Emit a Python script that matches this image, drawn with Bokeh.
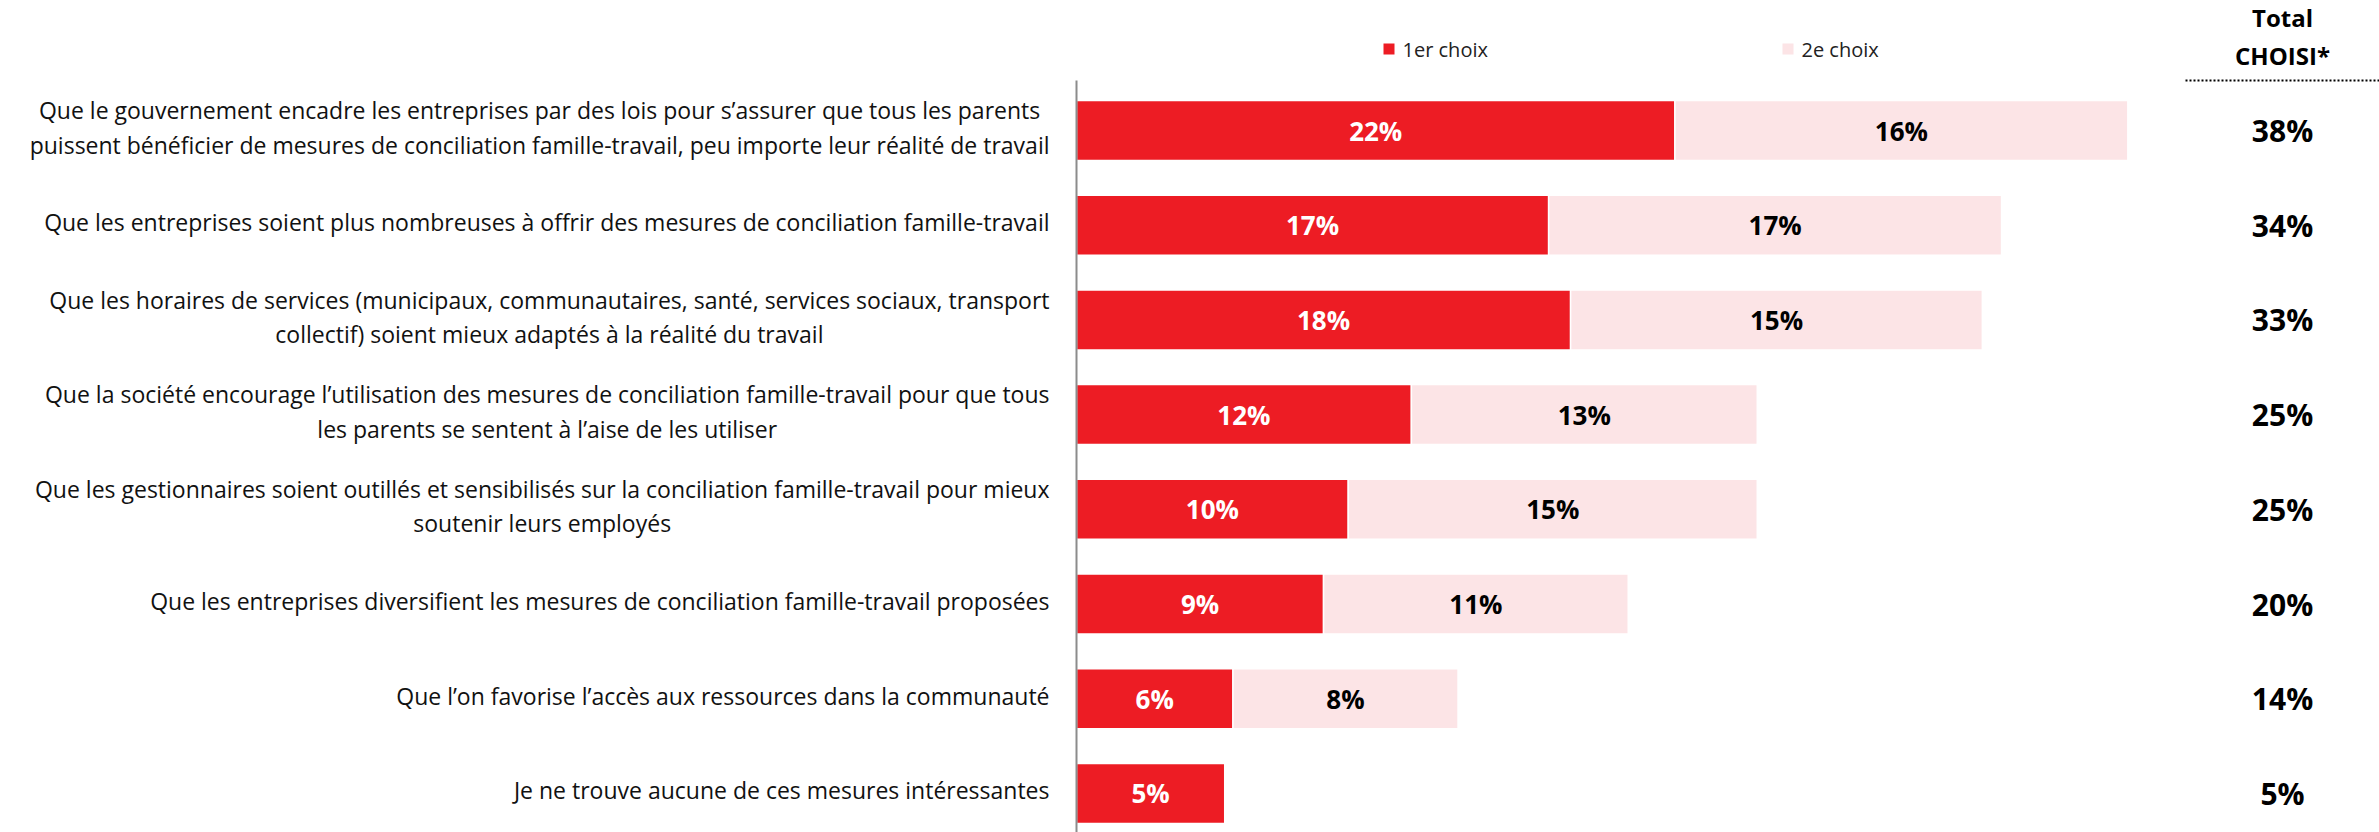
from bokeh.plotting import figure
from bokeh.models import Range1d, ColumnDataSource
from bokeh.core.properties import value
from bokeh.embed import file_html
from bokeh.resources import INLINE

categories = [
    "Que le gouvernement encadre les entreprises par des lois pour s’assurer que tous les parents\npuissent bénéficier de mesures de conciliation famille-travail, peu importe leur réalité de travail",
    "Que les entreprises soient plus nombreuses à offrir des mesures de conciliation famille-travail",
    "Que les horaires de services (municipaux, communautaires, santé, services sociaux, transport\ncollectif) soient mieux adaptés à la réalité du travail",
    "Que la société encourage l’utilisation des mesures de conciliation famille-travail pour que tous\nles parents se sentent à l’aise de les utiliser",
    "Que les gestionnaires soient outillés et sensibilisés sur la conciliation famille-travail pour mieux\nsoutenir leurs employés",
    "Que les entreprises diversifient les mesures de conciliation famille-travail proposées",
    "Que l’on favorise l’accès aux ressources dans la communauté",
    "Je ne trouve aucune de ces mesures intéressantes",
]
premier = [21.8, 17.2, 18.0, 12.2, 9.9, 9.0, 5.7, 5.4]
deuxieme = [16.5, 16.5, 15.0, 12.6, 14.9, 11.1, 8.2, 0.0]
premier_labels = ["22%", "17%", "18%", "12%", "10%", "9%", "6%", "5%"]
deuxieme_labels = ["16%", "17%", "15%", "13%", "15%", "11%", "8%", ""]
total_labels = ["38%", "34%", "33%", "25%", "25%", "20%", "14%", "5%"]
series_names = ["1er choix", "2e choix"]
total_header = "Total\nCHOISI*"

RED = "#ED1C24"
PINK = "#FCE4E6"
FONT = "Open Sans"

W, H = 2379, 832
PX_PER_UNIT = 27.45
ZERO_PX = 1076
ROW_PX = 94.7
ROW0_PX = 130

x_start = -ZERO_PX / PX_PER_UNIT
x_end = (W - ZERO_PX) / PX_PER_UNIT
y_top = -ROW0_PX / ROW_PX
y_bottom = (H - ROW0_PX) / ROW_PX


def xd(px):
    return (px - ZERO_PX) / PX_PER_UNIT


def yd(px):
    return (px - ROW0_PX) / ROW_PX


p = figure(width=W, height=H, output_backend="svg", toolbar_location=None,
           x_axis_type=None, y_axis_type=None,
           x_range=Range1d(x_start, x_end), y_range=Range1d(y_bottom, y_top),
           min_border=0, outline_line_color=None)
p.background_fill_color = "white"
p.border_fill_color = "white"

rows = list(range(len(categories)))
n = len(rows)

src1 = ColumnDataSource(dict(y=rows, right=premier, mid=[v / 2 for v in premier], lab=premier_labels))
p.hbar(y="y", left=0, right="right", height=0.634, source=src1,
       fill_color=RED, line_color="white", line_width=1.5)

r2 = [i for i in rows if deuxieme[i] > 0]
src2 = ColumnDataSource(dict(
    y=r2,
    left=[premier[i] for i in r2],
    right=[premier[i] + deuxieme[i] for i in r2],
    mid=[premier[i] + deuxieme[i] / 2 for i in r2],
    lab=[deuxieme_labels[i] for i in r2],
))
p.hbar(y="y", left="left", right="right", height=0.634, source=src2,
       fill_color=PINK, line_color="white", line_width=1.5)

# value labels
p.text(x="mid", y="y", text="lab", source=src1, text_color="white",
       text_font=value(FONT), text_font_style="bold", text_font_size="26px",
       text_align="center", text_baseline="middle")
p.text(x="mid", y="y", text="lab", source=src2, text_color="black",
       text_font=value(FONT), text_font_style="bold", text_font_size="26px",
       text_align="center", text_baseline="middle")

# category labels
p.text(x=[xd(1049)] * n, y=rows, text=categories, text_color="#111111",
       text_font=value(FONT), text_font_size="23px", text_line_height=1.07,
       text_align="center", text_baseline="middle", anchor=value("center_right"),
       y_offset=-3)

# axis line
p.segment(x0=[0], y0=[yd(80)], x1=[0], y1=[y_bottom], line_color="#8c8c8c", line_width=2)

# totals column
tot_x = xd(2282)
p.text(x=[tot_x] * n, y=rows, text=total_labels, text_color="black",
       text_font=value(FONT), text_font_style="bold", text_font_size="30px",
       text_align="center", text_baseline="middle")
p.text(x=[tot_x], y=[yd(36)], text=[total_header], text_color="black",
       text_font=value(FONT), text_font_style="bold", text_font_size="24px",
       text_line_height=1.15, text_align="center", text_baseline="middle",
       anchor=value("center"))
p.segment(x0=[xd(2185)], y0=[yd(80)], x1=[x_end], y1=[yd(80)],
          line_color="black", line_width=2, line_dash="2 2")

# legend
leg_y = yd(48.5)
p.scatter(x=[xd(1388.5), xd(1787.5)], y=[leg_y, leg_y], marker="square", size=11,
          fill_color=[RED, PINK], line_color=None)
p.text(x=[xd(1402), xd(1801)], y=[leg_y, leg_y], text=series_names, text_color="#222222",
       text_font=value(FONT), text_font_size="20px",
       text_align="left", text_baseline="middle")

open("out.html", "w").write(file_html(p, INLINE))
